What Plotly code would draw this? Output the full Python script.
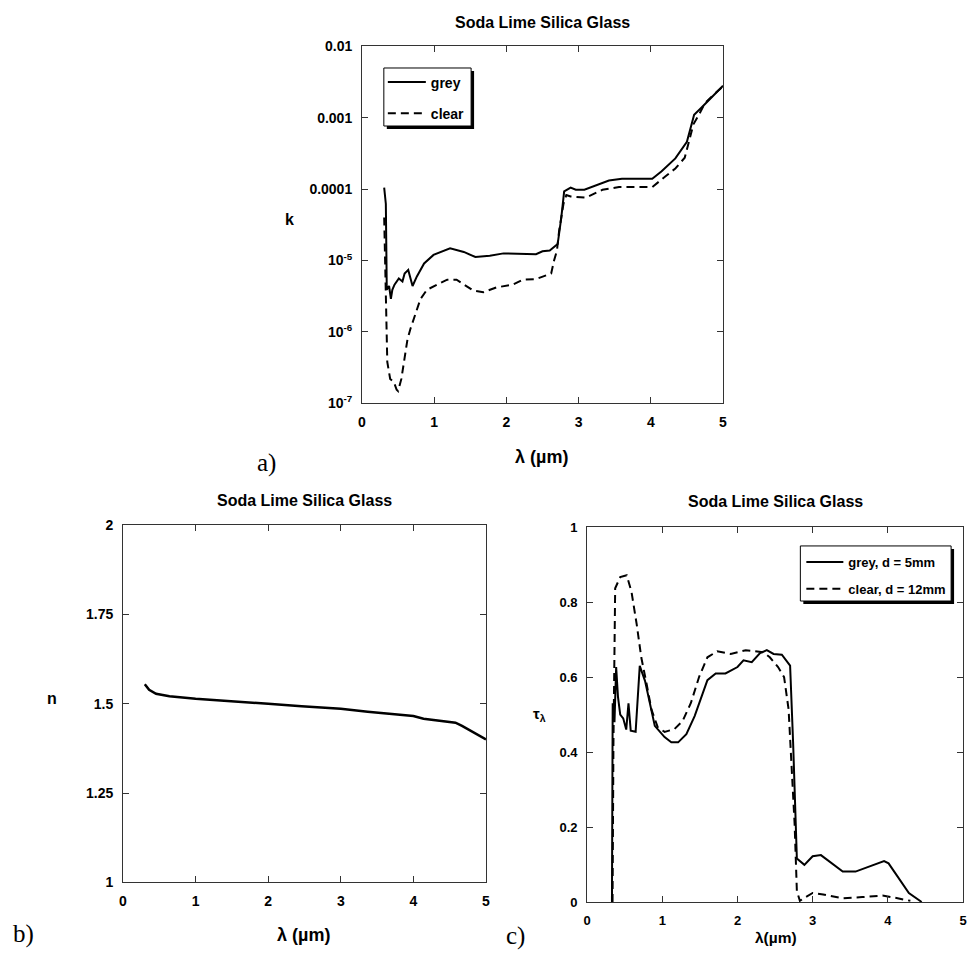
import plotly.graph_objects as go

W = H = 967

# ---------------- data ----------------
# a) extinction coefficient k vs wavelength (um)
wl_k_grey = [0.307, 0.33, 0.343, 0.375, 0.40, 0.42, 0.45, 0.51, 0.56, 0.59, 0.64, 0.70, 0.76, 0.86, 0.99,
             1.22, 1.41, 1.57, 1.77, 1.96, 2.41, 2.50, 2.60, 2.71, 2.76, 2.80, 2.89, 2.96, 3.08, 3.24,
             3.42, 3.60, 4.02, 4.15, 4.34, 4.50, 4.60, 4.70, 4.84, 5.0]
k_grey = [1.05e-4, 6.2e-5, 3.9e-6, 4.4e-6, 2.9e-6, 3.9e-6, 4.6e-6, 5.6e-6, 5.1e-6, 6.6e-6, 7.4e-6, 4.4e-6,
          6.0e-6, 9.1e-6, 1.2e-5, 1.48e-5, 1.32e-5, 1.12e-5, 1.17e-5, 1.26e-5, 1.23e-5, 1.35e-5, 1.38e-5,
          1.7e-5, 4.0e-5, 9.3e-5, 1.05e-4, 9.8e-5, 9.8e-5, 1.12e-4, 1.32e-4, 1.4e-4, 1.4e-4, 1.78e-4,
          2.7e-4, 4.6e-4, 1.1e-3, 1.38e-3, 1.9e-3, 2.8e-3]
wl_k_clear = [0.307, 0.32, 0.33, 0.35, 0.39, 0.44, 0.48, 0.50, 0.545, 0.58, 0.63, 0.67, 0.73, 0.81, 0.90,
              1.04, 1.18, 1.31, 1.45, 1.54, 1.68, 1.86, 2.09, 2.23, 2.41, 2.62, 2.66, 2.70, 2.73, 2.79,
              2.83, 2.89, 3.10, 3.33, 3.56, 4.02, 4.20, 4.34, 4.47, 4.54, 4.59, 4.66, 4.75, 4.89, 5.0]
k_clear = [4.0e-5, 7.4e-6, 1.9e-6, 3.8e-7, 2.2e-7, 2.0e-7, 1.55e-7, 1.48e-7, 2.2e-7, 3.8e-7, 7.9e-7,
           1.1e-6, 1.7e-6, 2.9e-6, 3.9e-6, 4.6e-6, 5.4e-6, 5.4e-6, 4.4e-6, 3.8e-6, 3.6e-6, 4.2e-6,
           4.6e-6, 5.4e-6, 5.5e-6, 6.6e-6, 1.0e-5, 1.38e-5, 2.6e-5, 6.2e-5, 8.3e-5, 7.9e-5, 7.6e-5,
           9.8e-5, 1.07e-4, 1.07e-4, 1.5e-4, 1.95e-4, 2.75e-4, 5.1e-4, 8.1e-4, 1.07e-3, 1.6e-3,
           2.2e-3, 2.75e-3]

# b) refractive index n
wl_n = [0.30, 0.36, 0.455, 0.64, 1.0, 1.55, 2.0, 2.46, 3.0, 3.37, 4.0, 4.14, 4.58, 4.67, 5.0]
n_vals = [1.555, 1.539, 1.528, 1.521, 1.514, 1.507, 1.500, 1.493, 1.486, 1.478, 1.466, 1.458, 1.447,
          1.438, 1.400]

# c) spectral transmittance
wl_tau_grey = [0.33, 0.333, 0.34, 0.364, 0.386, 0.41, 0.44, 0.48, 0.52, 0.55, 0.58, 0.645, 0.70, 0.77,
               0.90, 1.03, 1.12, 1.21, 1.32, 1.43, 1.60, 1.71, 1.84, 2.0, 2.08, 2.19, 2.30, 2.39,
               2.48, 2.59, 2.70, 2.74, 2.79, 2.89, 3.0, 3.11, 3.40, 3.57, 3.95, 4.01, 4.28, 4.45]
tau_grey = [0.0, 0.46, 0.53, 0.48, 0.627, 0.548, 0.50, 0.49, 0.46, 0.53, 0.457, 0.454, 0.63, 0.59,
            0.47, 0.44, 0.426, 0.426, 0.448, 0.496, 0.592, 0.61, 0.61, 0.627, 0.645, 0.64, 0.664,
            0.672, 0.662, 0.66, 0.631, 0.426, 0.116, 0.099, 0.122, 0.125, 0.081, 0.081, 0.109,
            0.103, 0.024, 0.0]
wl_tau_clear = [0.338, 0.35, 0.373, 0.44, 0.526, 0.59, 0.66, 0.72, 0.79, 0.855, 0.94, 1.03, 1.16, 1.27,
                1.38, 1.49, 1.60, 1.73, 1.91, 2.11, 2.35, 2.43, 2.54, 2.62, 2.68, 2.72, 2.76, 2.79,
                2.83, 2.89, 3.0, 3.14, 3.40, 3.66, 3.93, 4.10, 4.30]
tau_clear = [0.0, 0.426, 0.837, 0.867, 0.872, 0.828, 0.74, 0.653, 0.583, 0.514, 0.466, 0.454, 0.461,
             0.483, 0.531, 0.601, 0.653, 0.669, 0.662, 0.672, 0.666, 0.653, 0.627, 0.60, 0.514,
             0.374, 0.208, 0.029, 0.003, 0.011, 0.024, 0.02, 0.01, 0.013, 0.017, 0.011, 0.003]

x_ticks = [0, 1, 2, 3, 4, 5]
k_tickvals = [1e-7, 1e-6, 1e-5, 1e-4, 1e-3, 1e-2]
k_ticktext = ["10<sup>-7</sup>", "10<sup>-6</sup>", "10<sup>-5</sup>", "0.0001", "0.001", "0.01"]
n_tickvals = [1, 1.25, 1.5, 1.75, 2]
n_ticktext = ["1", "1.25", "1.5", "1.75", "2"]
tau_tickvals = [0, 0.2, 0.4, 0.6, 0.8, 1]
tau_ticktext = ["0", "0.2", "0.4", "0.6", "0.8", "1"]

title_text = "Soda Lime Silica Glass"

# ---------------- helpers ----------------
def px_x(p):
    return p / W

def px_y(p):
    return 1 - p / H

FONT = "Liberation Sans, Arial, sans-serif"
SERIF = "Liberation Serif, Times New Roman, serif"
LINE = dict(color="black", width=2)
DASH = dict(color="black", width=2, dash="8px,5px")

fig = go.Figure()

fig.add_trace(go.Scatter(x=wl_k_grey, y=k_grey, mode="lines", line=LINE, name="grey",
                         xaxis="x", yaxis="y", legend="legend", legendgroup="g1"))
fig.add_trace(go.Scatter(x=wl_k_clear, y=k_clear, mode="lines", line=DASH, name="clear",
                         xaxis="x", yaxis="y", legend="legend", legendgroup="g2"))
fig.add_trace(go.Scatter(x=wl_n, y=n_vals, mode="lines", line=dict(color="black", width=2.5),
                         showlegend=False, xaxis="x2", yaxis="y2"))
fig.add_trace(go.Scatter(x=wl_tau_grey, y=tau_grey, mode="lines", line=LINE, name="grey, d = 5mm",
                         xaxis="x3", yaxis="y3", legend="legend2", legendgroup="h1"))
fig.add_trace(go.Scatter(x=wl_tau_clear, y=tau_clear, mode="lines", line=DASH, name="clear, d = 12mm",
                         xaxis="x3", yaxis="y3", legend="legend2", legendgroup="h2"))

def axis(domain, size=14, **kw):
    d = dict(domain=domain, showline=True, linecolor="#333", linewidth=1, mirror="ticks",
             ticks="inside", ticklen=6, tickcolor="#333", showgrid=False, zeroline=False,
             tickfont=dict(family=FONT, size=size, color="black", weight="bold"),
             ticklabelstandoff=6, fixedrange=True)
    d.update(kw)
    return d

fig.update_layout(
    xaxis=axis([px_x(361), px_x(725)], range=[0, 5], tickmode="array", tickvals=x_ticks, anchor="y"),
    yaxis=axis([px_y(402), px_y(39)], type="log", range=[-7, -2], tickmode="array",
               tickvals=k_tickvals, ticktext=k_ticktext, anchor="x"),
    xaxis2=axis([px_x(120), px_x(486)], range=[0, 5], tickmode="array", tickvals=x_ticks, anchor="y2"),
    yaxis2=axis([px_y(889), px_y(526)], range=[1, 2], tickmode="array", tickvals=n_tickvals,
                ticktext=n_ticktext, anchor="x2"),
    xaxis3=axis([px_x(588), 1.0], size=13, range=[0, 5], tickmode="array", tickvals=x_ticks, anchor="y3"),
    yaxis3=axis([px_y(909), px_y(528)], size=13, range=[0, 1], tickmode="array", tickvals=tau_tickvals,
                ticktext=tau_ticktext, anchor="x3"),
)

# legends (entries only; frames drawn as shapes below for the drop-shadow look)
fig.update_layout(
    legend=dict(x=px_x(382), y=px_y(59.5), xanchor="left", yanchor="top", bgcolor="rgba(0,0,0,0)",
                borderwidth=0, traceorder="grouped", tracegroupgap=10, itemwidth=38,
                font=dict(family=FONT, size=14, color="black", weight="bold")),
    legend2=dict(x=px_x(804), y=px_y(548), xanchor="left", yanchor="top", bgcolor="rgba(0,0,0,0)",
                 borderwidth=0, traceorder="grouped", tracegroupgap=7, itemwidth=37,
                 font=dict(family=FONT, size=13, color="black", weight="bold")),
)

boxes = [(383, 61, 471, 120), (803, 547, 955, 603)]
for (x0, y0, x1, y1) in boxes:
    fig.add_shape(type="rect", xref="paper", yref="paper", x0=px_x(x0 + 3), x1=px_x(x1 + 3),
                  y0=px_y(y1 + 3), y1=px_y(y0 + 3), fillcolor="black", line=dict(width=0), layer="above")
    fig.add_shape(type="rect", xref="paper", yref="paper", x0=px_x(x0), x1=px_x(x1),
                  y0=px_y(y1), y1=px_y(y0), fillcolor="white", line=dict(color="black", width=1),
                  layer="above")

ann = []
def text(x, y, t, size, family=FONT, weight="bold"):
    ann.append(dict(x=px_x(x), y=px_y(y), xref="paper", yref="paper", text=t, showarrow=False,
                    xanchor="center", yanchor="middle",
                    font=dict(family=family, size=size, color="black", weight=weight)))

text(543, 15, title_text, 16)
text(303, 501, title_text, 16)
text(778, 502, title_text, 16)
text(288, 215, "k", 16)
text(48, 702, "n", 16)
text(540, 718, "τ<sub>λ</sub>", 15)
text(542, 457, "λ (µm)", 18)
text(302, 943, "λ (µm)", 18)
text(778, 945, "λ(µm)", 15.5)
text(265, 463, "a)", 25, family=SERIF, weight="normal")
text(20, 942, "b)", 25, family=SERIF, weight="normal")
text(516, 944, "c)", 25, family=SERIF, weight="normal")

fig.update_layout(annotations=ann, width=W, height=H, margin=dict(l=0, r=0, t=0, b=0),
                  plot_bgcolor="white", paper_bgcolor="white", showlegend=True)

page_fix = (
    "document.documentElement.style.margin='0';"
    "document.documentElement.style.overflow='hidden';"
    "document.body.style.margin='0';"
    "document.body.style.overflow='hidden';"
    "var gd=document.querySelector('.plotly-graph-div');"
    "gd.style.position='fixed';gd.style.top='0px';gd.style.left='0px';"
)
fig.write_html("out.html", config={"displayModeBar": False}, post_script=page_fix)
